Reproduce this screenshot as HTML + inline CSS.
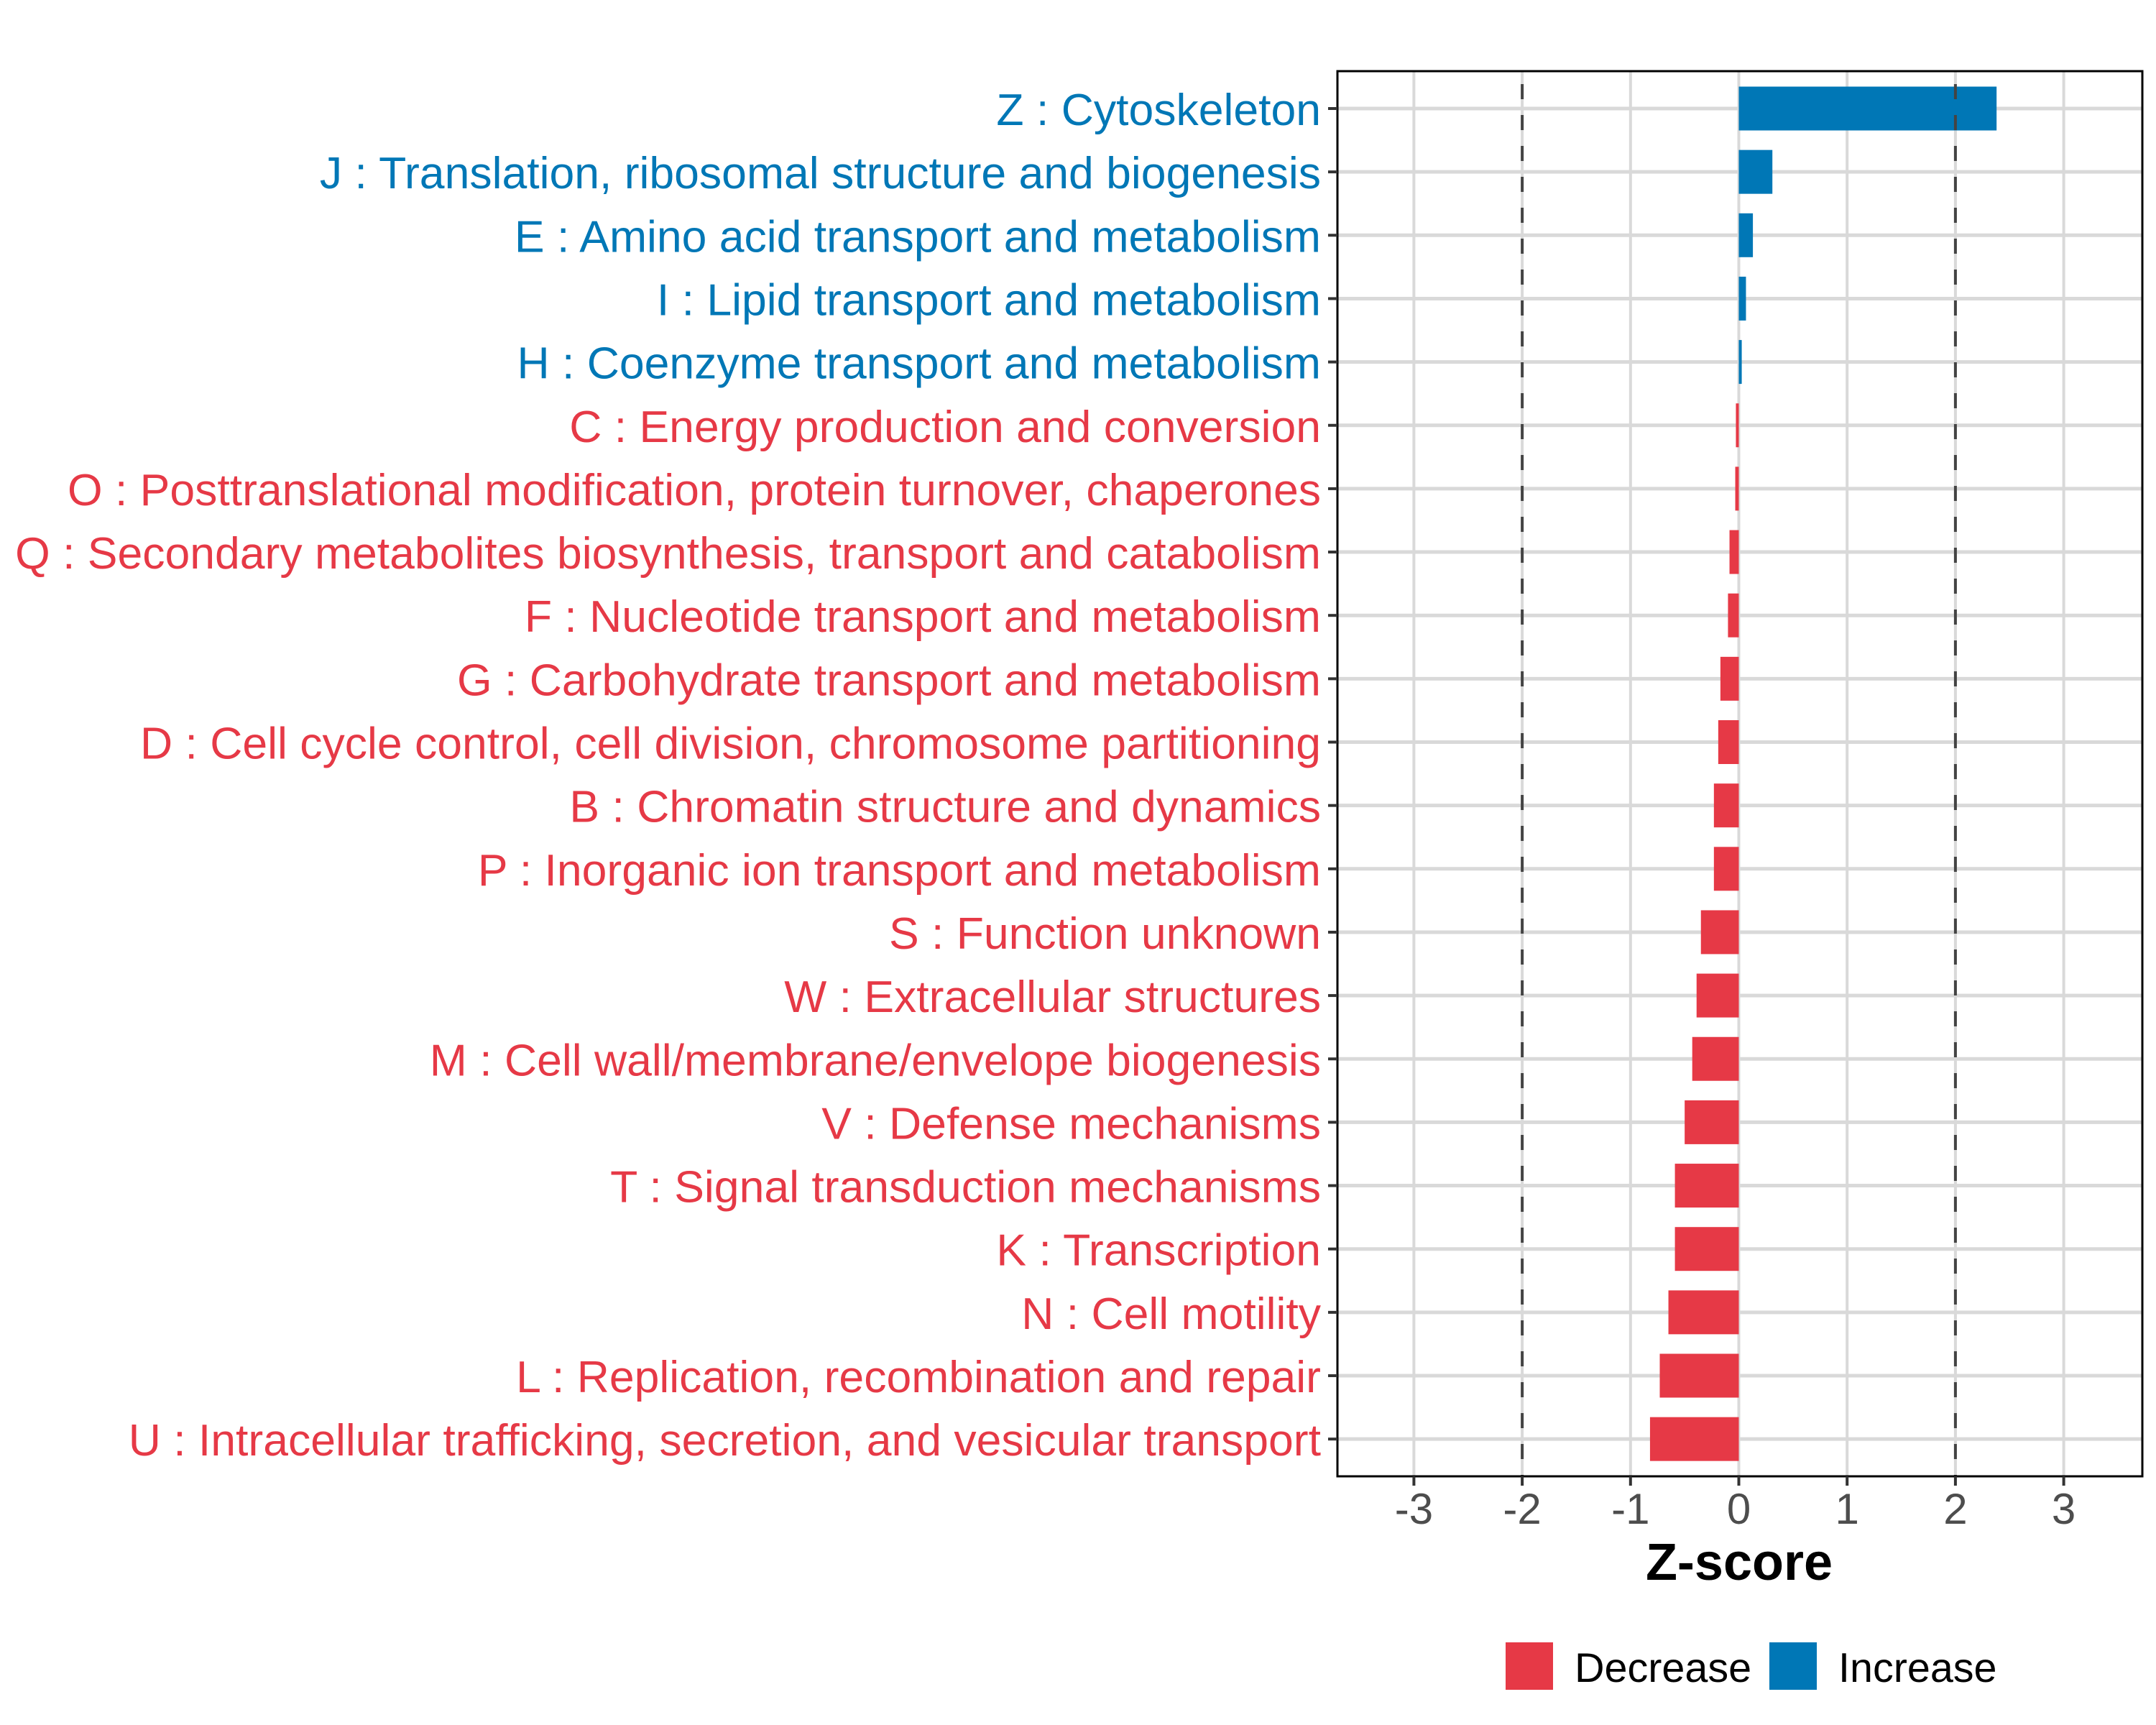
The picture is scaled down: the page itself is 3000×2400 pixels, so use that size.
<!DOCTYPE html>
<html><head><meta charset="utf-8"><style>
html,body{margin:0;padding:0;background:#fff;}
svg{display:block;font-family:"Liberation Sans",Arial,sans-serif;}
</style></head><body>
<svg id="chart" width="3000" height="2400" viewBox="0 0 3000 2400" xmlns="http://www.w3.org/2000/svg">
<rect x="0" y="0" width="3000" height="2400" fill="#fff"/>
<g id="grid"></g>
<g id="bars"></g>
<g id="refs"></g>
<rect x="1861" y="99" width="1120" height="1955" fill="none" stroke="#000" stroke-width="3"/>
<g id="ylabels"></g>
<g id="xaxis"></g>
<text x="2420" y="2198" font-size="72" font-weight="bold" text-anchor="middle" fill="#000">Z-score</text>
<g>
<rect x="2095" y="2285" width="66" height="66" fill="#e63946"/>
<text x="2191" y="2340" font-size="57.5" fill="#000">Decrease</text>
<rect x="2462" y="2285" width="66" height="66" fill="#0077b6"/>
<text x="2558" y="2340" font-size="57.5" fill="#000">Increase</text>
</g>
</svg>
<script>
const categories = ["Z : Cytoskeleton","J : Translation, ribosomal structure and biogenesis","E : Amino acid transport and metabolism","I : Lipid transport and metabolism","H : Coenzyme transport and metabolism","C : Energy production and conversion","O : Posttranslational modification, protein turnover, chaperones","Q : Secondary metabolites biosynthesis, transport and catabolism","F : Nucleotide transport and metabolism","G : Carbohydrate transport and metabolism","D : Cell cycle control, cell division, chromosome partitioning","B : Chromatin structure and dynamics","P : Inorganic ion transport and metabolism","S : Function unknown","W : Extracellular structures","M : Cell wall/membrane/envelope biogenesis","V : Defense mechanisms","T : Signal transduction mechanisms","K : Transcription","N : Cell motility","L : Replication, recombination and repair","U : Intracellular trafficking, secretion, and vesicular transport"];
const zscores = [2.38,0.31,0.13,0.066,0.027,-0.027,-0.033,-0.086,-0.10,-0.17,-0.19,-0.23,-0.23,-0.35,-0.39,-0.43,-0.50,-0.59,-0.59,-0.65,-0.73,-0.82];
const xTicks = [-3,-2,-1,0,1,2,3];
const xTickLabels = ["-3","-2","-1","0","1","2","3"];
const refLines = [-2,2];

const NS="http://www.w3.org/2000/svg";
const X0=2419.5, UNIT=150.7, Y0=151, STEP=88.15, BARH=61;
const xs=v=>X0+v*UNIT;
const ys=i=>Y0+i*STEP;
function mk(tag,attrs,parent){const e=document.createElementNS(NS,tag);for(const k in attrs)e.setAttribute(k,attrs[k]);parent.appendChild(e);return e;}
const grid=document.getElementById('grid'),bars=document.getElementById('bars'),refs=document.getElementById('refs'),yl=document.getElementById('ylabels'),xa=document.getElementById('xaxis');
xTicks.forEach((t,i)=>{
  const l=mk('line',{x1:xs(t),x2:xs(t),y1:99,y2:2054,stroke:'#d9d9d9','stroke-width':4},grid);
  
  
  const tk=mk('line',{x1:xs(t),x2:xs(t),y1:2054,y2:2067,stroke:'#333','stroke-width':4},xa);
  
  
  const tx=mk('text',{x:xs(t),y:2120,'font-size':60,'text-anchor':'middle',fill:'#4d4d4d'},xa);
  tx.textContent=xTickLabels[i];
  
  
});
categories.forEach((c,i)=>{
  const y=ys(i);
  const g=mk('line',{x1:1861,x2:2981,y1:y,y2:y,stroke:'#d9d9d9','stroke-width':5},grid);
  
  
  const v=zscores[i];
  const col=v>=0?'#0077b6':'#e63946';
  const r=mk('rect',{x:Math.min(xs(0),xs(v)),y:y-BARH/2,width:Math.abs(xs(v)-xs(0)),height:BARH,fill:col},bars);
  
  
  const tk=mk('line',{x1:1848,x2:1861,y1:y,y2:y,stroke:'#333','stroke-width':4},yl);
  
  
  const t=mk('text',{x:1838,y:y+23,'font-size':62.5,'text-anchor':'end',fill:col},yl);
  t.textContent=c;
  
  
});
refLines.forEach(v=>{
  const l=mk('line',{x1:xs(v),x2:xs(v),y1:99,y2:2054,stroke:'#444','stroke-width':4,'stroke-dasharray':'21 22','stroke-dashoffset':'-18'},refs);
  
  
});
</script>
</body></html>
